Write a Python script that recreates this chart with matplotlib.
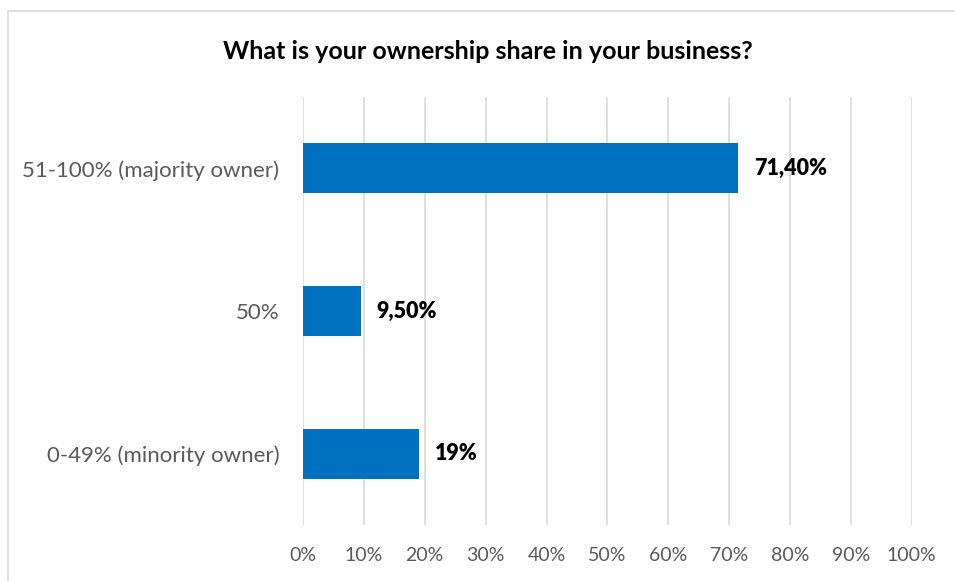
import matplotlib.pyplot as plt
from matplotlib.patches import Rectangle

categories = ['51-100% (majority owner)', '50%', '0-49% (minority owner)']
shares = [71.4, 9.5, 19.0]
value_labels = ['71,40%', '9,50%', '19%']
ticks = list(range(0, 101, 10))
tick_labels = [f'{t}%' for t in ticks]

plt.rcParams['font.family'] = ['Lato', 'DejaVu Sans']

fig = plt.figure(figsize=(9.55, 5.81), dpi=100)
ax = fig.add_axes([0.3173, 0.0964, 0.6374, 0.7367])

# outer chart frame (right and bottom edges fall outside the image)
fig.patches.append(Rectangle((8 / 955, -0.1), 1.2, 1 - 11 / 581 + 0.1,
                             transform=fig.transFigure, fill=False,
                             edgecolor='#D9D9D9', linewidth=1.2))

ypos = list(range(len(categories)))
ax.barh(ypos, shares, height=0.35, color='#0070C0', zorder=3)
for y, v, lab in zip(ypos, shares, value_labels):
    ax.annotate(lab, (v, y), xytext=(16, 0), textcoords='offset pixels',
                va='center', ha='left', fontsize=15.5, fontweight='heavy',
                color='black')

ax.set_xlim(0, 100)
ax.set_ylim(2.5, -0.5)
ax.set_xticks(ticks)
ax.set_xticklabels(tick_labels)
ax.set_yticks(ypos)
ax.set_yticklabels(categories)
ax.tick_params(axis='x', length=0, pad=16, labelsize=14, labelcolor='#595959')
ax.tick_params(axis='y', length=0, pad=17, labelsize=16, labelcolor='#595959')
ax.grid(axis='x', color='#D9D9D9', linewidth=1.2, zorder=0)
for s in ax.spines.values():
    s.set_visible(False)

fig.text(0.511, 0.912, 'What is your ownership share in your business?',
         ha='center', va='center', fontsize=18, fontweight='bold', color='black')

fig.savefig('out.png', dpi=100)
